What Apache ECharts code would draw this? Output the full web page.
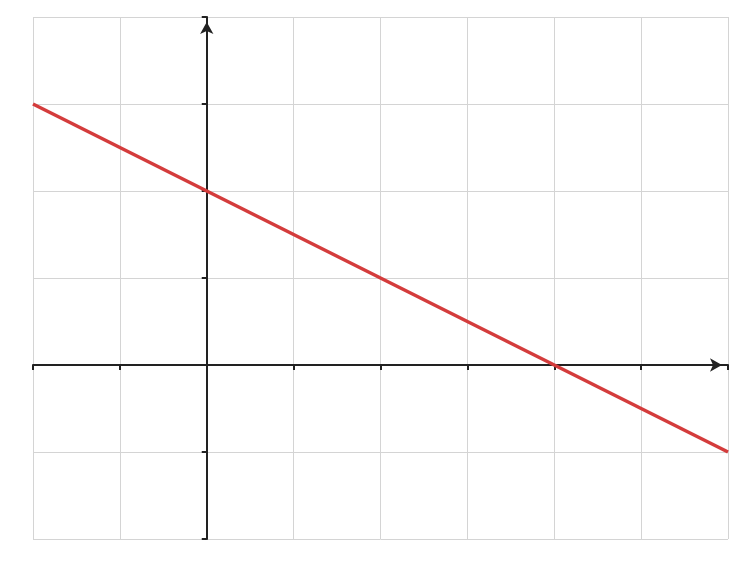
<!DOCTYPE html><html><head><meta charset="utf-8">
<script src="https://cdn.jsdelivr.net/npm/echarts@6/dist/echarts.min.js"></script>
<style>html,body{margin:0;padding:0;background:#fff}#c{width:746px;height:567px}</style></head><body>
<div id="c"></div>
<script>
var xValues=[-2,6];
var yValues=[3,-1];
var xTicks=[-2,-1,1,2,3,4,5];
var yTicks=[-2,-1,1,2,3];
var curveLabel="f'";
var fnt='DejaVu Sans';
var txt=function(v){return String(v).replace('-','\u2212');};
var lab=function(pos,dist,extra){return Object.assign({show:true,position:pos,distance:dist,color:'#222',fontFamily:fnt,fontSize:15},extra||{});};
var chart=echarts.init(document.getElementById('c'));
chart.setOption({
 animation:false,
 grid:{left:33,right:18,top:17,bottom:28,containLabel:false},
 xAxis:{type:'value',min:-2,max:6,interval:1,
  axisLine:{onZero:true,lineStyle:{color:'#222',width:2},symbol:['none','arrow'],symbolSize:[10,12],symbolOffset:[0,-6]},
  axisTick:{show:true,length:5,lineStyle:{color:'#222',width:2}},
  axisLabel:{show:false},
  splitLine:{show:true,lineStyle:{color:'#d4d4d4',width:1}}},
 yAxis:{type:'value',min:-2,max:4,interval:1,
  axisLine:{onZero:true,lineStyle:{color:'#222',width:2},symbol:['none','arrow'],symbolSize:[10,12],symbolOffset:[0,-5]},
  axisTick:{show:true,length:5,lineStyle:{color:'#222',width:2}},
  axisLabel:{show:false},
  splitLine:{show:true,lineStyle:{color:'#d4d4d4',width:1}}},
 series:[
  {type:'line',data:[[xValues[0],yValues[0]],[xValues[1],yValues[1]]],showSymbol:false,lineStyle:{color:'#d43c3c',width:3.5},z:5},
  {type:'scatter',symbolSize:1,itemStyle:{opacity:0},data:xTicks.map(function(v){return [v,0];}),
   label:lab('bottom',9,{formatter:function(p){return txt(p.value[0]);}})},
  {type:'scatter',symbolSize:1,itemStyle:{opacity:0},data:yTicks.map(function(v){return [0,v];}),
   label:lab('left',9,{formatter:function(p){return txt(p.value[1]);}})},
  {type:'scatter',symbolSize:1,itemStyle:{opacity:0},data:[[-0.2,-0.22]],label:lab('inside',0,{formatter:'0'})},
  {type:'scatter',symbolSize:1,itemStyle:{opacity:0},data:[[5.87,0.23]],label:lab('inside',0,{formatter:'x',fontSize:18})},
  {type:'scatter',symbolSize:1,itemStyle:{opacity:0},data:[[0.07,3.8]],label:lab('right',0,{formatter:"f'(x)",fontSize:18})},
  {type:'scatter',symbolSize:1,itemStyle:{opacity:0},data:[[4.85,-0.77]],label:lab('inside',0,{formatter:curveLabel,color:'#d43c3c',fontWeight:'bold',fontSize:18})}
 ]
});
</script></body></html>
